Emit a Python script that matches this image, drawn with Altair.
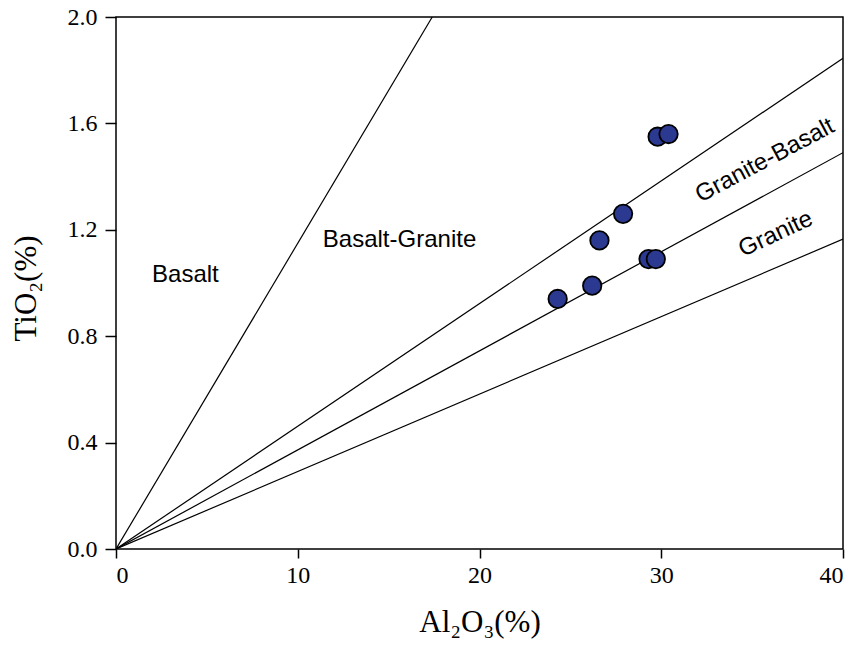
import altair as alt
import pandas as pd

# Sample points (Al2O3 %, TiO2 %)
al2o3 = [29.8, 30.4, 27.9, 26.6, 29.3, 29.7, 26.2, 24.3]
tio2 = [1.55, 1.56, 1.26, 1.16, 1.09, 1.09, 0.99, 0.94]

# Discrimination lines from origin: end points
line_names = ["L1", "L2", "L3", "L4"]
line_end_x = [17.4, 40.0, 40.0, 40.0]
line_end_y = [2.0, 1.845, 1.49, 1.165]

# Field labels
label_text = ["Basalt", "Basalt-Granite", "Granite-Basalt", "Granite"]
label_x = [3.82, 15.6, 35.7, 36.3]
label_y = [1.03, 1.16, 1.46, 1.184]
label_angle = [0, 0, 332, 335]

pts = pd.DataFrame({"x": al2o3, "y": tio2})
rows = []
for n, ex, ey in zip(line_names, line_end_x, line_end_y):
    rows.append({"line": n, "x": 0.0, "y": 0.0, "o": 0})
    rows.append({"line": n, "x": ex, "y": ey, "o": 1})
lines = pd.DataFrame(rows)
labels = pd.DataFrame({"t": label_text, "x": label_x, "y": label_y, "a": label_angle})

xscale = alt.Scale(domain=[0, 40], nice=False, zero=False)
yscale = alt.Scale(domain=[0, 2.0], nice=False, zero=False)

xaxis = alt.Axis(title="Al₂O₃(%)", values=[0, 10, 20, 30, 40], format="d",
                 tickSize=9, labelPadding=5, titlePadding=20)
yaxis = alt.Axis(title="TiO₂(%)", values=[0, 0.4, 0.8, 1.2, 1.6, 2.0], format=".1f",
                 tickSize=11, labelPadding=8, titlePadding=25, titleY=271)

line_layer = alt.Chart(lines).mark_line(color="black", strokeWidth=1.2, clip=True).encode(
    x=alt.X("x:Q", scale=xscale, axis=xaxis),
    y=alt.Y("y:Q", scale=yscale, axis=yaxis),
    detail="line:N",
    order="o:Q",
)

point_layer = alt.Chart(pts).mark_circle(size=340, color="#2B3990", opacity=1,
                                          stroke="black", strokeWidth=1.8).encode(
    x=alt.X("x:Q", scale=xscale, axis=xaxis),
    y=alt.Y("y:Q", scale=yscale, axis=yaxis),
)

text_layer = alt.Chart(labels).mark_text(font="Liberation Sans", fontSize=24,
                                         color="black").encode(
    x=alt.X("x:Q", scale=xscale, axis=xaxis),
    y=alt.Y("y:Q", scale=yscale, axis=yaxis),
    text="t:N",
    angle=alt.Angle("a:Q", scale=None),
)

chart = alt.layer(line_layer, point_layer, text_layer).properties(
    width=727, height=532,
    background="white",
    autosize=alt.AutoSizeParams(type="none"),
    padding={"left": 108, "top": 9, "right": 3, "bottom": 96},
).configure_view(
    stroke="black", strokeWidth=1.5
).configure_axis(
    grid=False, domain=False, tickColor="black", tickWidth=1.5,
    labelFont="Liberation Serif", labelFontSize=24, labelColor="black",
    titleFont="Liberation Serif", titleFontSize=31, titleFontWeight="normal",
    titleColor="black",
)

chart.save("out.html", embed_options={"renderer": "svg", "actions": False})
